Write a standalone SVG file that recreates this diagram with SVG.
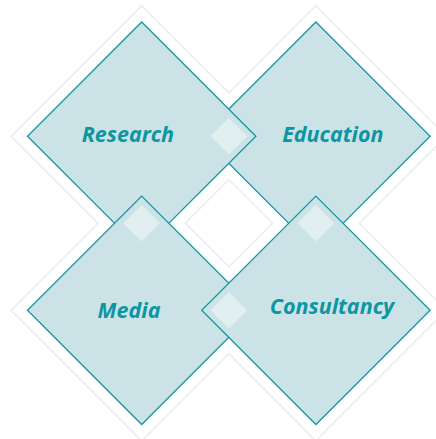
<svg xmlns="http://www.w3.org/2000/svg" width="436" height="439" viewBox="0 0 436 439">
  <style>
    .halo-line { fill: #ffffff; stroke: #ececec; stroke-width: 3; }
    .halo-fill { fill: #ffffff; stroke: none; }
    .box { fill: #cbe3e7; stroke: #1597a3; stroke-width: 1.3; }
    .hl { fill: #e2eff1; stroke: none; }
    .lbl { font-family: "Open Sans", "Liberation Sans", sans-serif; font-weight: bold; font-style: italic; font-size: 21.5px; fill: #0b96a2; text-anchor: middle; }
  </style>
  <defs>
    <path id="dia" d="M0,-114.2 L114.2,0 L0,114.2 L-114.2,0 Z"/>
    <path id="halo" d="M0,-129.5 L129.5,0 L0,129.5 L-129.5,0 Z"/>
    <path id="small" d="M0,-18.3 L18.3,0 L0,18.3 L-18.3,0 Z"/>
  </defs>
  <rect width="436" height="439" fill="#ffffff"/>
  <g id="halos">
    <use href="#halo" class="halo-line" x="141.7" y="136.2"/>
    <use href="#halo" class="halo-line" x="315.9" y="136.2"/>
    <use href="#halo" class="halo-line" x="141.7" y="310.3"/>
    <use href="#halo" class="halo-line" x="315.9" y="310.3"/>
    <use href="#halo" class="halo-fill" x="141.7" y="136.2"/>
    <use href="#halo" class="halo-fill" x="315.9" y="136.2"/>
    <use href="#halo" class="halo-fill" x="141.7" y="310.3"/>
    <use href="#halo" class="halo-fill" x="315.9" y="310.3"/>
  </g>
  <g id="connectors"></g>
  <g id="education">
    <use href="#dia" class="box" x="315.9" y="136.2"/>
    <text class="lbl" x="332.8" y="142">Education</text>
  </g>
  <g id="research">
    <use href="#dia" class="box" x="141.7" y="136.2"/>
    <use href="#small" class="hl" x="228.8" y="136.2"/>
    <text class="lbl" x="127.9" y="142">Research</text>
  </g>
  <g id="media">
    <use href="#dia" class="box" x="141.7" y="310.3"/>
    <use href="#small" class="hl" x="141.7" y="223.2"/>
    <text class="lbl" x="129" y="318">Media</text>
  </g>
  <g id="consultancy">
    <use href="#dia" class="box" x="315.9" y="310.3"/>
    <use href="#small" class="hl" x="315.9" y="223.2"/>
    <use href="#small" class="hl" x="228.8" y="310.3"/>
    <text class="lbl" x="332" y="314">Consultancy</text>
  </g>
</svg>
